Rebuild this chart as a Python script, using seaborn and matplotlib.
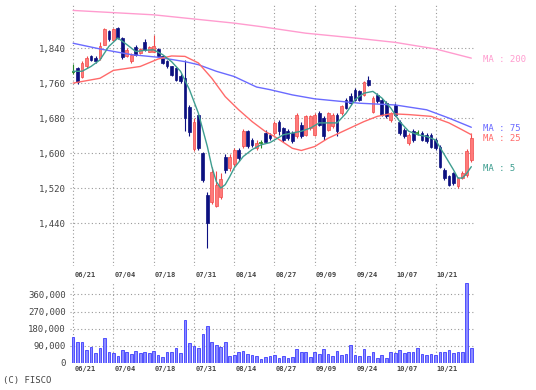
import numpy as np
import pandas as pd
import matplotlib
matplotlib.use("Agg")
import matplotlib.pyplot as plt
import matplotlib.transforms as mtransforms
import seaborn as sns

# daily candles 06/21 .. 10/31 (90 sessions)
opens = [1785, 1794, 1775, 1798, 1821, 1817, 1817, 1848, 1878, 1859,
         1885, 1863, 1822, 1810, 1842, 1829, 1855, 1832, 1832, 1838,
         1821, 1810, 1798, 1794, 1777, 1772, 1705, 1610, 1686, 1600,
         1505, 1488, 1480, 1500, 1592, 1565, 1575, 1608, 1617, 1650,
         1630, 1612, 1624, 1645, 1642, 1646, 1670, 1657, 1650, 1647,
         1638, 1665, 1642, 1657, 1642, 1691, 1680, 1653, 1661, 1688,
         1691, 1722, 1730, 1745, 1741, 1733, 1768, 1695, 1733, 1722,
         1714, 1676, 1710, 1672, 1653, 1623, 1650, 1647, 1646, 1642,
         1642, 1630, 1615, 1562, 1547, 1554, 1524, 1543, 1550, 1585]
highs = [1803, 1797, 1810, 1822, 1824, 1823, 1853, 1886, 1881, 1886,
         1889, 1866, 1840, 1828, 1846, 1840, 1860, 1845, 1870, 1840,
         1823, 1813, 1800, 1797, 1780, 1812, 1710, 1680, 1690, 1603,
         1512, 1568, 1560, 1555, 1598, 1598, 1612, 1612, 1654, 1652,
         1634, 1630, 1630, 1652, 1646, 1674, 1676, 1660, 1654, 1650,
         1692, 1670, 1688, 1688, 1692, 1696, 1684, 1695, 1692, 1692,
         1711, 1726, 1738, 1749, 1745, 1765, 1776, 1730, 1737, 1726,
         1718, 1695, 1714, 1676, 1657, 1646, 1654, 1652, 1650, 1646,
         1646, 1634, 1618, 1566, 1550, 1557, 1546, 1558, 1610, 1646]
lows = [1781, 1758, 1771, 1795, 1810, 1806, 1813, 1846, 1857, 1857,
        1860, 1816, 1819, 1806, 1822, 1826, 1834, 1830, 1830, 1819,
        1803, 1795, 1776, 1765, 1760, 1650, 1640, 1605, 1608, 1535,
        1383, 1484, 1476, 1495, 1555, 1560, 1570, 1582, 1612, 1612,
        1615, 1608, 1612, 1622, 1630, 1642, 1642, 1626, 1630, 1624,
        1634, 1634, 1638, 1653, 1638, 1661, 1630, 1650, 1657, 1640,
        1688, 1700, 1711, 1718, 1718, 1730, 1753, 1692, 1715, 1684,
        1680, 1672, 1684, 1642, 1634, 1619, 1626, 1642, 1627, 1623,
        1611, 1607, 1565, 1539, 1524, 1528, 1520, 1540, 1546, 1580]
closes = [1785, 1762, 1806, 1817, 1813, 1810, 1844, 1883, 1861, 1883,
          1863, 1819, 1836, 1825, 1825, 1838, 1836, 1842, 1844, 1822,
          1806, 1798, 1779, 1768, 1764, 1680, 1648, 1672, 1612, 1539,
          1440, 1556, 1528, 1540, 1562, 1590, 1607, 1588, 1650, 1616,
          1619, 1622, 1624, 1626, 1634, 1669, 1650, 1630, 1634, 1627,
          1688, 1638, 1684, 1684, 1688, 1665, 1638, 1691, 1688, 1650,
          1707, 1703, 1714, 1722, 1722, 1762, 1756, 1726, 1718, 1688,
          1684, 1691, 1688, 1646, 1638, 1642, 1630, 1647, 1630, 1627,
          1615, 1611, 1569, 1543, 1528, 1531, 1543, 1554, 1604, 1634]
volumes = [138000, 112000, 109000, 68000, 86000, 51000, 81000, 130000, 56000, 51000,
           39000, 68000, 56000, 47000, 63000, 51000, 56000, 51000, 63000, 40000,
           33000, 56000, 56000, 77000, 51000, 226000, 103000, 91000, 81000, 151000,
           196000, 112000, 95000, 86000, 112000, 37000, 42000, 56000, 65000, 47000,
           42000, 37000, 21000, 33000, 37000, 42000, 28000, 37000, 28000, 33000,
           72000, 56000, 60000, 33000, 56000, 46000, 72000, 46000, 37000, 65000,
           42000, 46000, 93000, 42000, 37000, 72000, 37000, 56000, 28000, 42000,
           28000, 56000, 51000, 68000, 51000, 60000, 60000, 77000, 46000, 42000,
           46000, 42000, 60000, 60000, 68000, 51000, 60000, 60000, 419000, 77000]

# moving averages (session index, value)
ma5_idx = [0, 2, 4, 6, 8, 10, 12, 14, 16, 18, 20, 22, 24, 26, 28, 30, 31, 32, 33, 34,
           35, 36, 38, 40, 42, 44, 45, 47, 49, 51, 53, 55, 57, 59, 61, 63, 65, 67, 69,
           71, 73, 75, 77, 79, 81, 83, 85, 86, 87, 88, 89]
ma5_val = [1787, 1787, 1798, 1813, 1844, 1863, 1848, 1832, 1835, 1836, 1825, 1809, 1787,
           1745, 1691, 1615, 1569, 1535, 1520, 1528, 1546, 1566, 1592, 1608, 1619, 1624,
           1630, 1642, 1646, 1650, 1657, 1669, 1669, 1669, 1691, 1722, 1737, 1741, 1726,
           1703, 1672, 1650, 1642, 1638, 1630, 1596, 1562, 1543, 1543, 1554, 1569]
ma25_idx = [0, 6, 9, 15, 19, 22, 25, 28, 31, 34, 37, 40, 43, 45, 49, 51, 54, 57, 61,
            65, 68, 71, 75, 80, 84, 87, 89]
ma25_val = [1760, 1771, 1789, 1798, 1815, 1822, 1821, 1806, 1771, 1729, 1699, 1672, 1649,
            1638, 1611, 1606, 1615, 1634, 1653, 1672, 1684, 1690, 1688, 1684, 1669, 1653, 1642]
ma75_idx = [0, 6, 13, 19, 25, 28, 32, 36, 41, 44, 49, 54, 64, 72, 79, 84, 89]
ma75_val = [1851, 1838, 1825, 1819, 1809, 1802, 1787, 1775, 1751, 1745, 1733, 1724, 1714,
            1710, 1699, 1680, 1659]
ma200_idx = [0, 18, 36, 42, 52, 63, 72, 81, 89]
ma200_val = [1926, 1916, 1897, 1889, 1874, 1863, 1853, 1838, 1817]

date_idx = [0, 9, 18, 27, 36, 45, 54, 63, 72, 81]
date_labels = ["06/21", "07/04", "07/18", "07/31", "08/14",
               "08/27", "09/09", "09/24", "10/07", "10/21"]
price_ticks = [1440, 1520, 1600, 1680, 1760, 1840]
price_labels = ["1,440", "1,520", "1,600", "1,680", "1,760", "1,840"]
vol_ticks = [0, 90000, 180000, 270000, 360000]
vol_labels = ["0", "90,000", "180,000", "270,000", "360,000"]

RED_FACE, RED_EDGE = "#ff7a7a", "#f04a4a"
BLUE = "#0c1080"
GREEN = "#2a8a2a"
TXT = "#444444"
GRID = "#9a9a9a"

sns.set_style("white")
plt.rcParams["font.family"] = ["DejaVu Sans Mono", "DejaVu Sans"]

df = pd.DataFrame({"open": opens, "high": highs, "low": lows, "close": closes,
                   "volume": volumes})
df["idx"] = np.arange(len(df))
df["kind"] = np.where(df.close > df.open, "up", np.where(df.close < df.open, "down", "flat"))

fig = plt.figure(figsize=(5.36, 3.9), dpi=100)
ax = fig.add_axes([70 / 536, 1 - 266 / 390, 404 / 536, 263 / 390])
axv = fig.add_axes([70 / 536, 1 - 363 / 390, 404 / 536, 80 / 390])

for a in (ax, axv):
    for s in a.spines.values():
        s.set_visible(False)
    a.set_xlim(-0.7, 89.6)
    a.set_xticks(date_idx)
    a.set_xticklabels([])
    a.tick_params(length=0, labelsize=6.5, labelcolor=TXT, pad=3)
    a.grid(True, color=GRID, linestyle=(0, (1, 2.2)), linewidth=0.8)
    a.set_axisbelow(True)

# price panel
ax.set_ylim(1342, 1943)
ax.set_yticks(price_ticks)
ax.set_yticklabels(price_labels)

wick_col = df.kind.map({"up": RED_EDGE, "down": BLUE, "flat": GREEN})
ax.vlines(df.idx, df.low, df.high, colors=wick_col, linewidth=0.8, zorder=2)
up = df[df.kind == "up"]
ax.bar(up.idx, up.close - up.open, bottom=up.open, width=0.62,
       color=RED_FACE, edgecolor=RED_EDGE, linewidth=0.5, zorder=3)
dn = df[df.kind == "down"]
ax.bar(dn.idx, dn.open - dn.close, bottom=dn.close, width=0.62,
       color=BLUE, edgecolor=BLUE, linewidth=0.5, zorder=3)
fl = df[df.kind == "flat"]
ax.hlines(fl.close, fl.idx - 0.35, fl.idx + 0.35, colors=GREEN, linewidth=1.2, zorder=3)

ma_styles = [(ma200_idx, ma200_val, "#ff9ccf"), (ma75_idx, ma75_val, "#6a6aff"),
             (ma25_idx, ma25_val, "#ff6a6a"), (ma5_idx, ma5_val, "#3f9e90")]
for xs, ys, col in ma_styles:
    sns.lineplot(x=xs, y=ys, ax=ax, color=col, linewidth=1.0, zorder=4)
ax.set_xlabel("")
ax.set_ylabel("")

ma_text = [("MA : 200", 1813, "#ff9ccf"), ("MA : 75", 1657, "#6a6aff"),
           ("MA : 25", 1633, "#ff6a6a"), ("MA : 5", 1564, "#3f9e90")]
for label, yv, col in ma_text:
    ax.text(91.5, yv, label, color=col, fontsize=6.5, va="center", ha="left", clip_on=False)

trans = mtransforms.blended_transform_factory(ax.transData, ax.transAxes)
for xi, lab in zip(date_idx, date_labels):
    ax.text(xi + 0.3, -0.036, lab, transform=trans, fontsize=5, fontweight="bold",
            color=TXT, ha="left", va="center")

# volume panel
axv.set_ylim(0, 420000)
axv.set_yticks(vol_ticks)
axv.set_yticklabels(vol_labels)
axv.bar(df.idx, df.volume, width=0.6, color="#8c8cff", edgecolor="#3c3cff",
        linewidth=0.6, zorder=3)
transv = mtransforms.blended_transform_factory(axv.transData, axv.transAxes)
for xi, lab in zip(date_idx, date_labels):
    axv.text(xi + 0.3, -0.07, lab, transform=transv, fontsize=5, fontweight="bold",
             color=TXT, ha="left", va="center")

fig.text(3 / 536, 1 - 380 / 390, "(C) FISCO", fontsize=6.5, color=TXT, ha="left", va="center")

fig.savefig("out.png", dpi=100)
